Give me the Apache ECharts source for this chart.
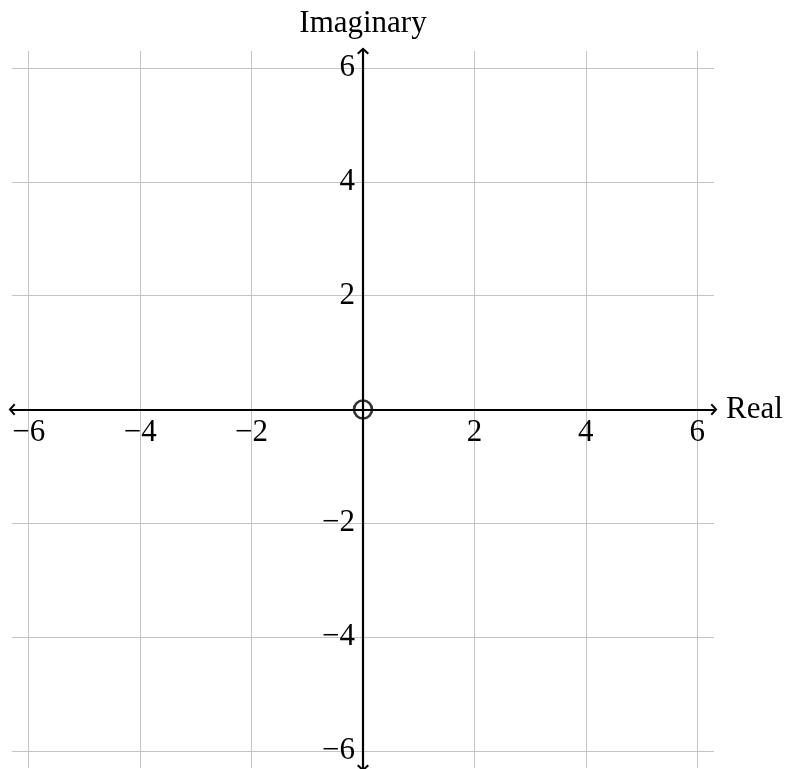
<!DOCTYPE html>
<html>
<head>
<meta charset="utf-8">
<script src="https://cdn.jsdelivr.net/npm/echarts@6/dist/echarts.min.js"></script>
<style>html,body{margin:0;padding:0;background:#fff}#c{width:789px;height:769px}</style>
</head>
<body>
<div id="c"></div>
<script>
const xTicks = [-6, -4, -2, 0, 2, 4, 6];
const yTicks = [-6, -4, -2, 0, 2, 4, 6];
const axisRange = [-6.3, 6.3];
const zeros = [[0, 0]];
const xName = 'Real';
const yName = 'Imaginary';

const FONT = 'Liberation Serif';
const G = { left: 12, right: 75, top: 51, bottom: 1 };
const W = 789, H = 769;
const gw = W - G.left - G.right, gh = H - G.top - G.bottom;
const arrowPath = 'path://M0,0 L10,9 L7.6,11.4 L0,4.4 L-7.6,11.4 L-10,9 Z';
function fmt(v) {
  if (Math.abs(v) < 1e-9) return '';
  return v < 0 ? '\u2212' + Math.abs(v) : String(v);
}
function makeAxis(ticks, extra) {
  return Object.assign({
    type: 'value', min: axisRange[0], max: axisRange[1],
    axisLine: { show: true, onZero: false, symbol: [arrowPath, arrowPath], symbolSize: [12, 10], symbolOffset: [0, 0],
      lineStyle: { color: '#000', width: 2.2 } },
    axisTick: { show: false, customValues: ticks },
    splitLine: { show: true, lineStyle: { color: '#c4c4c4', width: 1 } },
    z: 5
  }, extra);
}
const chart = echarts.init(document.getElementById('c'), null, { renderer: 'canvas' });
chart.setOption({
  animation: false,
  backgroundColor: '#fff',
  grid: Object.assign({ containLabel: false, outerBoundsMode: 'none' }, G),
  xAxis: makeAxis(xTicks, {
    position: 'bottom', offset: -gh / 2,
    name: xName, nameLocation: 'end', nameGap: 12,
    nameTextStyle: { fontFamily: FONT, fontSize: 31, color: '#000', padding: [5, 0, 0, 0] },
    axisLabel: { fontFamily: FONT, fontSize: 31, color: '#000', formatter: fmt, margin: 8, customValues: xTicks }
  }),
  yAxis: makeAxis(yTicks, {
    position: 'left', offset: -gw / 2,
    name: yName, nameLocation: 'end', nameGap: 12,
    nameTextStyle: { fontFamily: FONT, fontSize: 31, color: '#000' },
    axisLabel: { fontFamily: FONT, fontSize: 31, color: '#000', formatter: fmt, margin: 8, customValues: yTicks, padding: [5, 0, 0, 0] }
  }),
  series: [{
    type: 'scatter', data: zeros, symbol: 'circle', symbolSize: 18, z: 10,
    itemStyle: { color: 'rgba(0,0,0,0)', borderColor: '#000', borderWidth: 2.6 }
  }]
});
</script>
</body>
</html>
